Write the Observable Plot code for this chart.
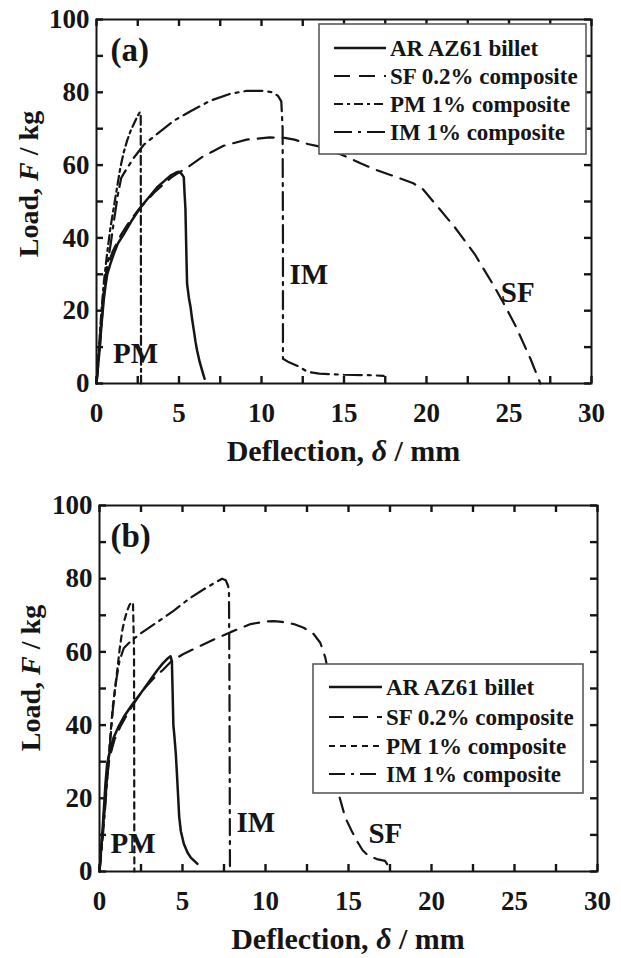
<!DOCTYPE html>
<html>
<head>
<meta charset="utf-8">
<script src="https://cdn.jsdelivr.net/npm/d3@7"></script>
<script src="https://cdn.jsdelivr.net/npm/@observablehq/plot@0.6"></script>
<style>
  body { margin: 0; background: #fff; }
  #chart { width: 621px; }
  #chart svg { display: block; }
</style>
</head>
<body>
<div id="chart"></div>
<script>
// ---------- data ----------
const seriesNames = ["AR AZ61 billet", "SF 0.2% composite", "PM 1% composite", "IM 1% composite"];

// tick values
const xTickLabels = [0, 5, 10, 15, 20, 25, 30];
const xMinorTicks = [0, 2.5, 5, 7.5, 10, 12.5, 15, 17.5, 20, 22.5, 25, 27.5, 30];
const yTickLabels = [0, 20, 40, 60, 80, 100];
const yMinorTicks = [0, 10, 20, 30, 40, 50, 60, 70, 80, 90, 100];

// panel (a): [deflection mm, load kg]
const a_AR = [[0,0],[0.1,5],[0.2,10],[0.3,16],[0.44,23],[0.55,27],[0.65,30],[0.85,33],[1.05,35.6],[1.3,38.5],[1.65,41],[2.1,44.5],[2.67,48.4],[3.2,51.3],[3.68,53.9],[4.1,55.6],[4.48,57.1],[4.8,57.9],[4.99,58.2],[5.15,57.6],[5.29,56.7],[5.34,52],[5.39,48],[5.45,35],[5.49,27.4],[5.6,23.5],[5.7,21],[5.8,17.5],[5.9,14.6],[6.0,11.5],[6.1,9],[6.25,6],[6.4,3.6],[6.55,1.3]];
const a_SF = [[0,0],[0.2,12],[0.4,24],[0.6,30],[0.8,34],[1,36.5],[1.5,41],[2,44.5],[2.5,47.5],[3,50],[3.5,52.5],[4,54.5],[4.5,56.5],[5,58],[5.5,59.3],[6.5,62.5],[7.7,65.3],[9.1,67],[10.5,67.6],[11.4,67.5],[12,67],[12.8,65.8],[13.4,65.2],[14,64.4],[15,62.6],[16,60.5],[17,58.6],[18,57],[19.2,55],[19.8,53.3],[20.5,49.5],[21.7,43],[22.9,35.7],[24.1,26.7],[24.8,21],[25.4,15.8],[26.3,6.8],[26.9,0]];
const a_PM = [[0,0],[0.15,10],[0.3,20],[0.45,28],[0.65,36],[0.85,43],[1.05,48.4],[1.25,54],[1.45,59.4],[1.65,63.5],[1.86,66.8],[2.06,69.3],[2.26,71.3],[2.46,73.2],[2.62,74.5],[2.68,74],[2.7,0]];
const a_IM = [[0,0],[0.2,10],[0.4,22],[0.6,31],[0.85,38],[1.1,46],[1.3,52],[1.5,56.5],[1.8,58.8],[2.26,62],[2.87,65.6],[3.68,68.6],[4.69,72.2],[5.7,74.8],[6.9,77.7],[8.1,79.6],[9.1,80.4],[10.1,80.4],[10.7,80],[11.0,79],[11.2,77.5],[11.28,70],[11.3,40],[11.3,6.8],[11.6,6],[12.2,4.8],[12.8,3.2],[13.5,2.7],[15,2.4],[16.5,2.3],[17.4,2.1]];

// panel (b)
const b_AR = [[0,0],[0.1,6],[0.26,16.7],[0.36,24],[0.46,29.4],[0.65,33.5],[0.86,36.7],[1.15,39.6],[1.46,42.2],[1.95,45.5],[2.47,48.6],[2.97,51.8],[3.47,54.9],[3.8,56.8],[4.08,58.1],[4.28,58.8],[4.36,57.5],[4.4,50],[4.45,40],[4.5,37.6],[4.6,32],[4.66,27],[4.72,22],[4.8,15],[4.9,11],[5.08,7.6],[5.3,5.2],[5.5,3.8],[5.9,2.1]];
const b_SF = [[0,0],[0.2,12],[0.4,24],[0.6,31],[0.9,36],[1.3,40],[1.8,44],[2.3,47.5],[2.8,50.5],[3.3,53],[3.8,55],[4.3,57.3],[5,59.3],[6,61.5],[7,63.6],[7.9,65.4],[9.1,67.6],[10,68.3],[10.5,68.4],[11,68.2],[11.7,67.6],[12.3,66.6],[12.9,64.9],[13.3,62.5],[13.6,58.5],[13.8,54],[14.05,43],[14.25,30],[14.45,20.5],[14.8,14.8],[15.2,11],[15.5,8.4],[15.85,5.8],[16.2,4.3],[16.7,3.4],[17.2,2.9],[17.4,1.5],[17.5,0]];
const b_PM = [[0,0],[0.15,8],[0.3,16],[0.45,25],[0.6,34],[0.8,45],[1.07,55],[1.22,61],[1.37,65.8],[1.52,69],[1.67,71.3],[1.8,72.8],[1.93,73.6],[2.02,73],[2.08,60],[2.1,0]];
const b_IM = [[0,0],[0.15,7],[0.3,15],[0.45,24],[0.6,33],[0.8,44],[1.0,52],[1.2,57.5],[1.46,61],[1.9,63],[2.47,65],[3.47,68.1],[4.48,71.3],[5.48,74.8],[6.49,77.7],[7.0,79],[7.39,80],[7.6,79.6],[7.75,78],[7.8,76],[7.83,50],[7.86,0]];

// annotation labels: [text, x, y]
const a_notes = [["PM", 1.0, 8.2], ["IM", 11.7, 30], ["SF", 24.5, 25]];
const b_notes = [["PM", 0.66, 7.7], ["IM", 8.25, 13.4], ["SF", 16.2, 10.4]];
const a_tag = [["(a)", 0.85, 91.5]];
const b_tag = [["(b)", 0.66, 91.5]];

// ---------- styling / layout ----------
const W = 621;
const FONT = "'Liberation Serif', 'Times New Roman', Times, serif";
const INK = "#151515";
const TICK_LEN = 7; // px, inward

const panels = [
  {
    height: 486, mt: 19, mb: 103, ml: 96, mr: 30,
    series: [a_AR, a_SF, a_PM, a_IM],
    dashes: [null, "16,9", "9,4,3,4", "18,6,3,6"],
    widths: [2.5, 2.2, 2.2, 2.2],
    notes: a_notes, tag: a_tag,
    legend: {x: 319, y: 24, w: 267, h: 130, rows: [48, 76, 104, 132], x1: 334, x2: 386, tx: 390},
    yTitle: {x: 38, y: 184}, xTitleY: 461
  },
  {
    height: 472, mt: 19, mb: 87, ml: 99, mr: 24,
    series: [b_AR, b_SF, b_PM, b_IM],
    dashes: [null, "15,9", "6,5", "16,6,3,6"],
    widths: [2.5, 2.2, 2.2, 2.2],
    notes: b_notes, tag: b_tag,
    legend: {x: 313, y: 178, w: 270, h: 129, rows: [201, 231, 260, 288], x1: 329, x2: 382, tx: 386},
    yTitle: {x: 40, y: 192}, xTitleY: 463
  }
];

function drawPanel(p) {
  const innerH = p.height - p.mt - p.mb;
  const innerW = W - p.ml - p.mr;
  const xDom = [0, 30], yDom = [0, 100];
  // tick length expressed in data units of the opposite scale
  const tlY = TICK_LEN / innerH * (yDom[1] - yDom[0]);
  const tlX = TICK_LEN / innerW * (xDom[1] - xDom[0]);
  const lineMarks = p.series.map((s, i) => Plot.line(s, {
    x: d => d[0], y: d => d[1],
    stroke: INK, strokeWidth: p.widths[i],
    strokeDasharray: p.dashes[i] || undefined,
    strokeLinejoin: "round"
  }));
  const svgEl = Plot.plot({
    width: W, height: p.height,
    marginTop: p.mt, marginBottom: p.mb, marginLeft: p.ml, marginRight: p.mr,
    x: {domain: xDom},
    y: {domain: yDom},
    style: {fontFamily: FONT, fontWeight: "bold", color: INK, background: "#fff", overflow: "visible"},
    marks: [
      ...lineMarks,
      // inward ticks on all four sides
      Plot.ruleX(xMinorTicks, {x: d => d, y1: yDom[0], y2: yDom[0] + tlY, stroke: INK, strokeWidth: 2.4}),
      Plot.ruleX(xMinorTicks, {x: d => d, y1: yDom[1] - tlY, y2: yDom[1], stroke: INK, strokeWidth: 2.4}),
      Plot.ruleY(yMinorTicks, {y: d => d, x1: xDom[0], x2: xDom[0] + tlX, stroke: INK, strokeWidth: 2.4}),
      Plot.ruleY(yMinorTicks, {y: d => d, x1: xDom[1] - tlX, x2: xDom[1], stroke: INK, strokeWidth: 2.4}),
      Plot.axisX(xTickLabels, {anchor: "bottom", tickSize: 0, tickPadding: 19, fontSize: 27, label: null}),
      Plot.axisY(yTickLabels, {anchor: "left", tickSize: 0, tickPadding: 7, fontSize: 27, label: null}),
      Plot.frame({stroke: INK, strokeWidth: 2}),
      Plot.text(p.notes, {x: d => d[1], y: d => d[2], text: d => d[0], textAnchor: "start", fontSize: 29, fontWeight: "bold", fill: INK}),
      Plot.text(p.tag, {x: d => d[1], y: d => d[2], text: d => d[0], textAnchor: "start", fontSize: 33, fontWeight: "bold", fill: INK})
    ]
  });

  const svg = d3.select(svgEl);
  const sx = svgEl.scale("x");
  const left = sx.apply(xDom[0]), right = sx.apply(xDom[1]);

  // x title
  const xt = svg.append("text")
    .attr("x", (left + right) / 2).attr("y", p.xTitleY)
    .attr("text-anchor", "middle").attr("font-family", FONT)
    .attr("font-weight", "bold").attr("font-size", 30).attr("fill", INK);
  xt.append("tspan").text("Deflection, ");
  xt.append("tspan").attr("font-style", "italic").text("δ");
  xt.append("tspan").text(" / mm");
  // y title
  const yt = svg.append("text")
    .attr("transform", `translate(${p.yTitle.x},${p.yTitle.y}) rotate(-90)`)
    .attr("text-anchor", "middle").attr("font-family", FONT)
    .attr("font-weight", "bold").attr("font-size", 28).attr("fill", INK);
  yt.append("tspan").text("Load, ");
  yt.append("tspan").attr("font-style", "italic").text("F");
  yt.append("tspan").text(" / kg");

  // legend
  const L = p.legend;
  const g = svg.append("g");
  g.append("rect").attr("x", L.x).attr("y", L.y).attr("width", L.w).attr("height", L.h)
    .attr("fill", "#fff").attr("stroke", "#5a5a5a").attr("stroke-width", 1.6);
  seriesNames.forEach((name, i) => {
    g.append("line").attr("x1", L.x1).attr("x2", L.x2).attr("y1", L.rows[i]).attr("y2", L.rows[i])
      .attr("stroke", INK).attr("stroke-width", p.widths[i])
      .attr("stroke-dasharray", p.dashes[i] || null);
    g.append("text").attr("x", L.tx).attr("y", L.rows[i]).attr("dy", "0.34em")
      .attr("text-anchor", "start")
      .attr("font-family", FONT).attr("font-weight", "bold").attr("font-size", 23)
      .attr("fill", INK).text(name);
  });
  return svgEl;
}

const host = document.getElementById("chart");
panels.forEach(p => host.appendChild(drawPanel(p)));
</script>
</body>
</html>
